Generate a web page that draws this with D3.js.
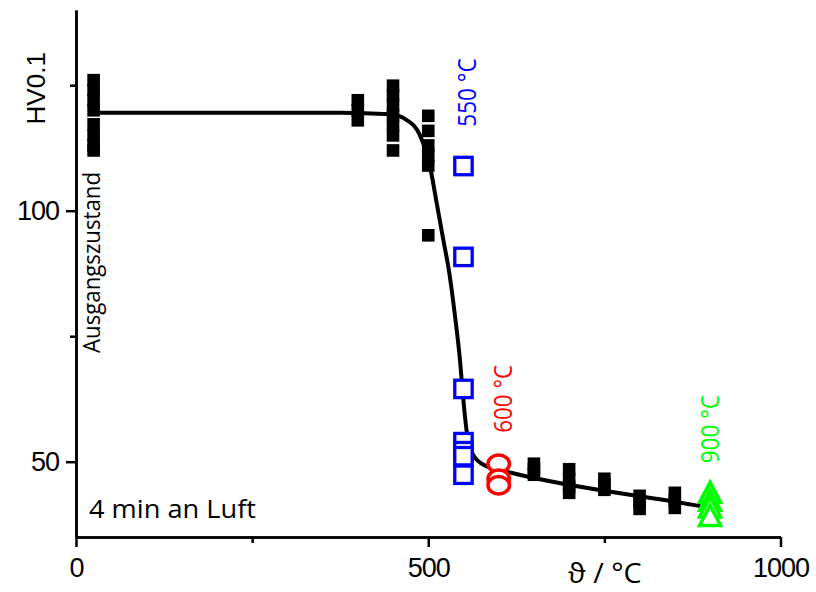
<!DOCTYPE html>
<html><head><meta charset="utf-8">
<script src="https://cdn.jsdelivr.net/npm/d3@7"></script>
<style>body{margin:0;background:#fff} svg{display:block}</style>
</head><body>
<svg id="chart" width="816" height="592"></svg>
<script>
// ---- data ----
const xTicksMajor = [0, 500, 1000];
const xTicksMinor = [250, 750];
const yTicksMajor = [50, 100];
const yTicksMinor = [75, 125];

const blackTemps = [25, 400, 450, 500, 650, 700, 750, 800, 850];
const blackHV = [
  [126, 124, 122, 120, 117.2, 115, 113, 112],
  [122, 120, 118],
  [124.9, 123, 121, 119, 117, 115, 112],
  [118.9, 115.9, 113, 111, 109, 95.1],
  [49.6, 48.5, 47.4],
  [48.5, 46.5, 45, 43.8],
  [46.6, 45.5, 44.4],
  [43.2, 42, 40.6],
  [43.8, 42.3, 40.8]
];
const temp550 = 550, hv550 = [108.9, 90.8, 64.5, 47.4, 53.9, 52.1, 51.1];
const temp600 = 600, hv600 = [49.6, 46.6, 45.3];
const temp900 = 900, hv900 = [43.9, 42.3, 41.0, 39.3];

const fitT  = [25, 375, 446, 469, 488, 502.5, 512, 521, 530, 538, 545, 549.7, 554.6, 564, 582.5, 620.7, 876, 900];
const fitHV = [119.5, 119.5, 119.2, 118.1, 115.1, 108.8, 101.5, 94.5, 87.5, 79, 70.3, 62.5, 56, 51.3, 49.1, 47.7, 41.4, 40.8];

// ---- chart ----
const svg = d3.select("#chart");
const x = d3.scaleLinear().domain([0, 1000]).range([76, 780.5]);
const y = d3.scaleLinear().domain([35, 140]).range([537, 9.9]);
const numFont = "'Liberation Sans', Arial, sans-serif";
const txtFont = "'Open Sans', 'DejaVu Sans', sans-serif";

// axes
function styleAxis(g) {
  g.selectAll("path,line").attr("stroke", "#000").attr("stroke-width", 2.5);
  g.selectAll("text").attr("font-family", numFont).attr("font-size", 27)
    .attr("letter-spacing", -1).attr("fill", "#000");
}
svg.append("g").attr("transform", "translate(0,537)")
  .call(d3.axisBottom(x).tickValues(xTicksMinor).tickSize(6).tickSizeOuter(0).tickFormat(""))
  .call(styleAxis);
svg.append("g").attr("transform", "translate(0,537)")
  .call(d3.axisBottom(x).tickValues(xTicksMajor).tickSize(10).tickSizeOuter(0).tickPadding(11).tickFormat(d3.format("d")))
  .call(styleAxis);
svg.append("g").attr("transform", "translate(76,0)")
  .call(d3.axisLeft(y).tickValues(yTicksMinor).tickSize(6).tickSizeOuter(0).tickFormat(""))
  .call(styleAxis);
svg.append("g").attr("transform", "translate(76,0)")
  .call(d3.axisLeft(y).tickValues(yTicksMajor).tickSize(10).tickSizeOuter(0).tickPadding(7).tickFormat(d3.format("d")))
  .call(styleAxis);

// fit curve
const fitData = fitT.map((t, i) => [t, fitHV[i]]);
svg.append("path").datum(fitData)
  .attr("d", d3.line().x(d => x(d[0])).y(d => y(d[1])).curve(d3.curveMonotoneX))
  .attr("fill", "none").attr("stroke", "#000").attr("stroke-width", 4);

// black squares
const sq = 12.6;
const blackPts = blackTemps.flatMap((t, i) => blackHV[i].map(v => [t, v]));
svg.append("g").selectAll("rect").data(blackPts).join("rect")
  .attr("x", d => x(d[0]) - sq / 2).attr("y", d => y(d[1]) - sq / 2)
  .attr("width", sq).attr("height", sq).attr("fill", "#000");

// blue open squares
const bs = 17.4;
svg.append("g").selectAll("rect").data(hv550).join("rect")
  .attr("x", x(temp550) - bs / 2).attr("y", d => y(d) - bs / 2)
  .attr("width", bs).attr("height", bs)
  .attr("fill", "#fff").attr("stroke", "#0000ff").attr("stroke-width", 3.3);

// red open circles
svg.append("g").selectAll("ellipse").data(hv600).join("ellipse")
  .attr("cx", x(temp600)).attr("cy", d => y(d)).attr("rx", 10.75).attr("ry", 8.75)
  .attr("fill", "#fff").attr("stroke", "#ff0000").attr("stroke-width", 3.5);

// green open triangles
const tw = 21, th = 20;
svg.append("g").selectAll("path").data(hv900).join("path")
  .attr("transform", d => `translate(${x(temp900)},${y(d)})`)
  .attr("d", `M0,${-th / 2}L${tw / 2},${th / 2}L${-tw / 2},${th / 2}Z`)
  .attr("fill", "#fff").attr("stroke", "#00ff00").attr("stroke-width", 3.5);

// texts
function rotText(txt, bx, sy, len, color, size) {
  svg.append("text").attr("transform", `translate(${bx},${sy}) rotate(-90)`)
    .attr("font-family", txtFont).attr("font-size", size).attr("fill", color)
    .attr("textLength", len).attr("lengthAdjust", "spacingAndGlyphs").text(txt);
}
rotText("Ausgangszustand", 100, 353, 181, "#000", 24);
rotText("550 °C", 476, 126.7, 68.4, "#0000ff", 26);
rotText("600 °C", 511.7, 432.7, 67.7, "#ff0000", 26);
rotText("900 °C", 719.3, 463.3, 68.3, "#00ff00", 26);

svg.append("text").attr("x", 89).attr("y", 518.3)
  .attr("font-family", txtFont).attr("font-size", 26).attr("fill", "#000")
  .attr("textLength", 167).attr("lengthAdjust", "spacingAndGlyphs").text("4 min an Luft");

svg.append("text").attr("x", 568).attr("y", 583.3)
  .attr("font-family", txtFont).attr("font-size", 28).attr("fill", "#000")
  .attr("textLength", 73.7).attr("lengthAdjust", "spacingAndGlyphs").text("ϑ / °C");

svg.append("text").attr("transform", "translate(45,88.3) rotate(-90)")
  .attr("text-anchor", "middle")
  .attr("font-family", numFont).attr("font-size", 26).attr("fill", "#000").text("HV0.1");
</script>
</body></html>
